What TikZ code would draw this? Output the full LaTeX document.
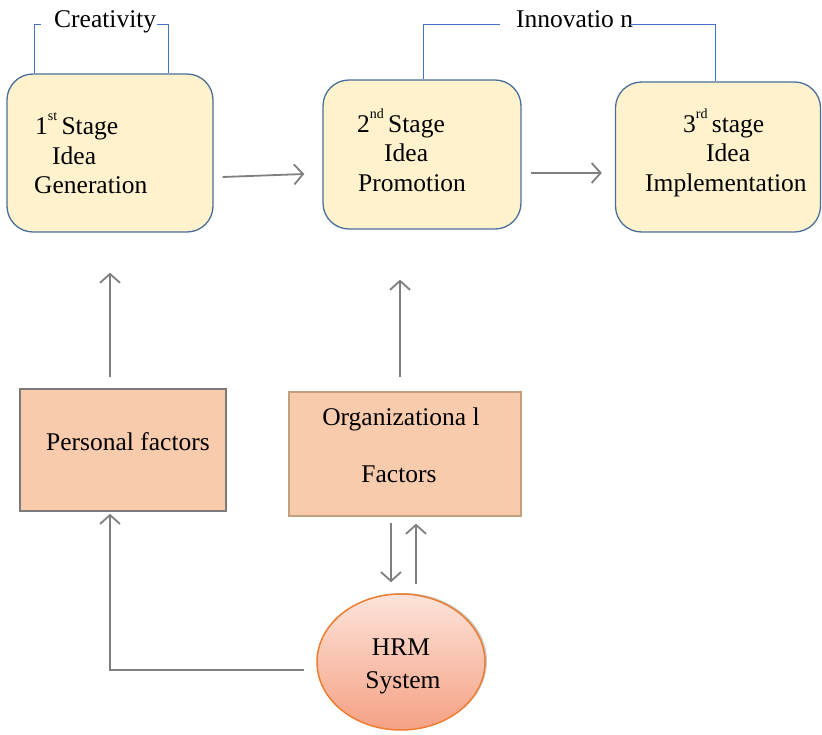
\documentclass[tikz,border=0pt]{standalone}
\usepackage{fontspec}
\setmainfont{Liberation Serif}
\usetikzlibrary{arrows.meta,calc,shapes.geometric,shadows}
\definecolor{stagefill}{HTML}{FFF2CC}
\definecolor{stageborder}{HTML}{4A6F9A}
\definecolor{brk}{HTML}{4472C4}
\definecolor{arrgray}{HTML}{7F7F7F}
\definecolor{factfill}{HTML}{F8CBAD}
\definecolor{pfborder}{HTML}{7A7A7A}
\definecolor{ogborder}{HTML}{C4A07A}
\definecolor{hrmborder}{HTML}{ED7D31}
\definecolor{hrmtop}{HTML}{FDE3DA}
\definecolor{hrmbot}{HTML}{F5A184}
\newcommand{\sups}[1]{\raisebox{0.55em}{\fontsize{14}{14}\selectfont #1}}
\begin{document}
\begin{tikzpicture}[x=1pt,y=-1pt,
  stagebox/.style={draw=stageborder, line width=1.3pt, fill=stagefill, rounded corners=26pt, inner sep=0},
  factbox/.style={fill=factfill, line width=1.6pt, inner sep=0},
  txt/.style={inner sep=0, anchor=base west, font=\fontsize{25.5}{30}\selectfont},
  ctxt/.style={inner sep=0, anchor=base, font=\fontsize{25.5}{30}\selectfont},
  bracket/.style={draw=brk, line width=1pt},
  arr/.style={draw=arrgray, line width=1.8pt, -{Straight Barb[length=9pt,width=20pt]}}]
\useasboundingbox (0,0) rectangle (822,735);

% stage boxes
\node[stagebox, minimum width=206, minimum height=158] (s1) at (110,153) {};
\node[stagebox, minimum width=198, minimum height=149] (s2) at (422,154.5) {};
\node[stagebox, minimum width=205, minimum height=150] (s3) at (718,157) {};

\node[txt] (s1a) at (35,135) {1\sups{st}\,Stage};
\node[txt] (s1b) at (52,165) {Idea};
\node[txt] (s1c) at (34,194) {Generation};

\node[txt] (s2a) at (357,133) {2\sups{nd}\,Stage};
\node[txt] (s2b) at (384,162) {Idea};
\node[txt] (s2c) at (358,192) {Promotion};

\node[txt] (s3a) at (683,133) {3\sups{rd}\,stage};
\node[txt] (s3b) at (706,162) {Idea};
\node[txt] (s3c) at (645,192) {Implementation};

% brackets
\node[txt] (creat) at (54,28) {Creativity};
\coordinate (c1a) at (34,25); \coordinate (c1b) at (41,25);
\coordinate (c1c) at (157,25); \coordinate (c1d) at (168,25);
\draw[bracket] (s1.north -| c1a) -- (c1a) -- (c1b);
\draw[bracket] (c1c) -- (c1d) -- (s1.north -| c1d);

\node[txt] (innov) at (516,28) {Innovatio n};
\coordinate (i1a) at (423,25); \coordinate (i1b) at (500,25);
\coordinate (i1c) at (630,25); \coordinate (i1d) at (715,25);
\draw[bracket] (s2.north -| i1a) -- (i1a) -- (i1b);
\draw[bracket] (i1c) -- (i1d) -- (s3.north -| i1d);

% stage arrows
\draw[arr] ([xshift=9pt,yshift=-24pt]s1.east) -- ([xshift=-18pt,yshift=-19.5pt]s2.west);
\draw[arr] ([xshift=9pt,yshift=-18.5pt]s2.east) -- ([xshift=-13pt,yshift=-16pt]s3.west);

% factor boxes
\node[factbox, draw=pfborder, minimum width=206, minimum height=122] (pf) at (123,450) {};
\node[txt] (pft) at (46,450) {Personal factors};
\node[factbox, draw=ogborder, line width=1.3pt, minimum width=232, minimum height=124] (og) at (405,454) {};
\node[ctxt] (ogt1) at (401,425) {Organizationa l};
\node[ctxt] (ogt2) at (399,482) {Factors};

% HRM ellipse
\node[ellipse, minimum width=168, minimum height=136, draw=hrmborder, line width=1.5pt,
      top color=hrmtop, bottom color=hrmbot,
      drop shadow={shadow xshift=2pt, shadow yshift=1pt, fill=gray!55, opacity=0.8}] (hrm) at (401,662) {};
\node[ctxt] (hrm1) at (401,655) {HRM};
\node[ctxt] (hrm2) at (403,688) {System};

% vertical arrows
\draw[arr] ([yshift=11pt]pf.north -| s1.south) -- ([yshift=-40pt]s1.south);
\draw[arr] ([xshift=-5pt,yshift=14pt]og.north) -- ([xshift=-22pt,yshift=-50pt]s2.south);
\draw[arr] ([xshift=-14pt,yshift=-6pt]og.south) -- ([xshift=-10pt,yshift=11pt]hrm.north);
\draw[arr] ([xshift=15pt,yshift=9pt]hrm.north) -- ([xshift=11pt,yshift=-7pt]og.south);

% feedback
\path (pf.south -| s1.south) coordinate (pfb0);
\draw[arr] ([xshift=-12pt,yshift=-8pt]hrm.west) -| ([yshift=-2pt]pfb0);
\end{tikzpicture}
\end{document}
